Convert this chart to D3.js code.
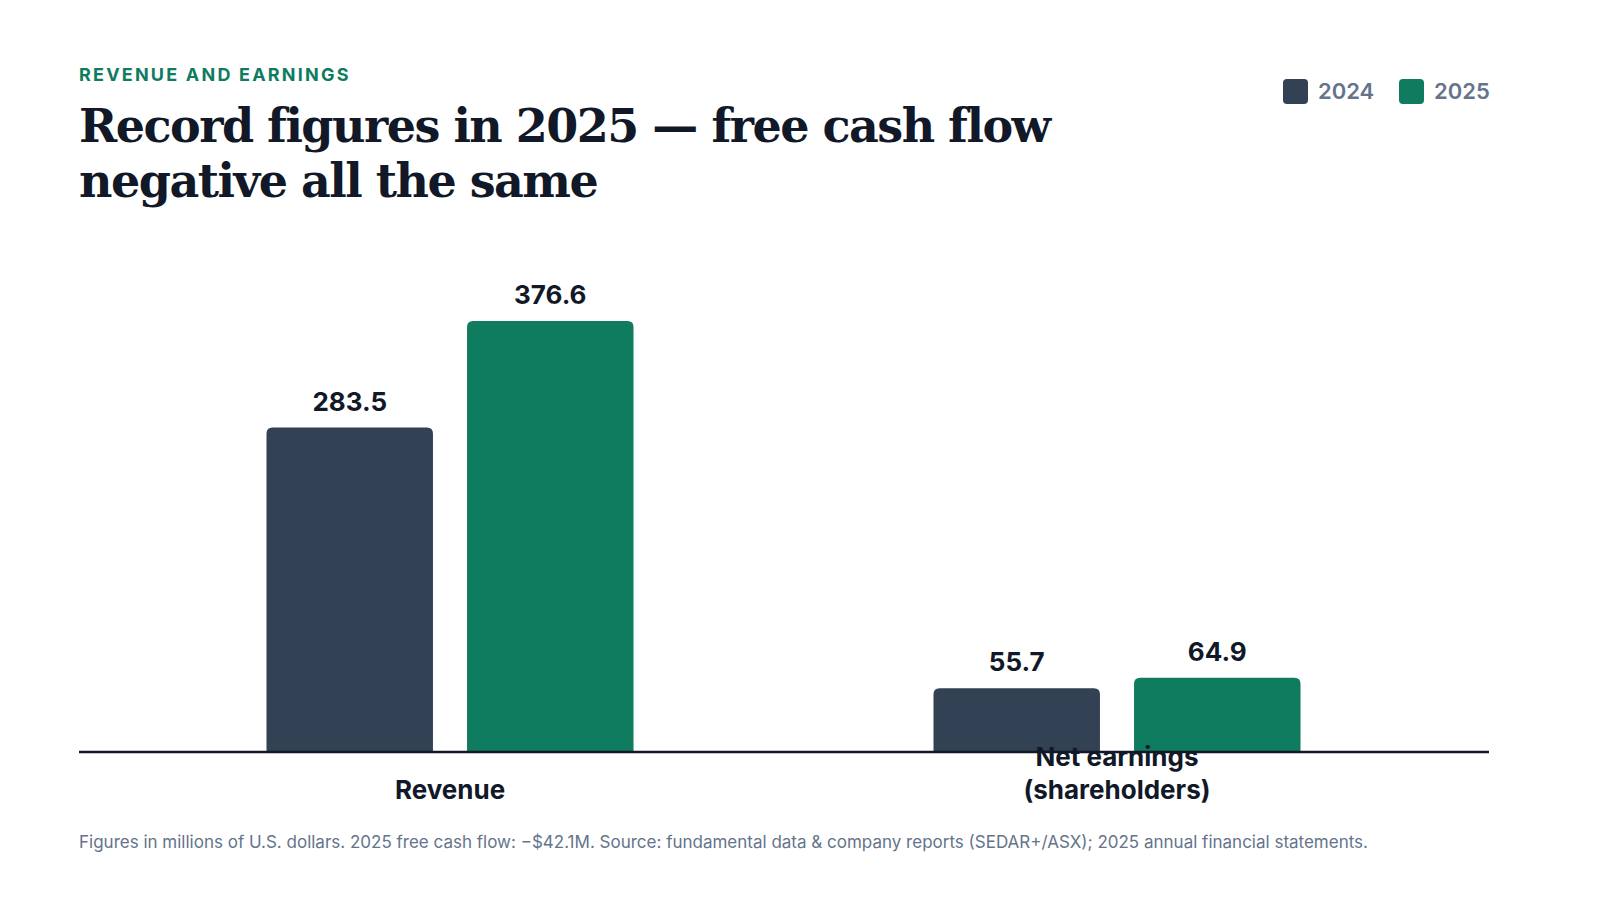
<!DOCTYPE html>
<html>
<head>
<meta charset="utf-8">
<script src="https://cdn.jsdelivr.net/npm/d3@7"></script>
<style>
  body { margin: 0; background: #fff; }
  text { font-family: Inter, "Noto Sans", sans-serif; }
</style>
</head>
<body>
<div id="chart"></div>
<script>
var categories = ["Revenue", "Net earnings\n(shareholders)"],
    years = ["2024", "2025"],
    values2024 = [283.5, 55.7],
    values2025 = [376.6, 64.9],
    colors = { "2024": "#334155", "2025": "#0f7b5f" };

var width = 1600, height = 900,
    baseline = 752;

var svg = d3.select("#chart").append("svg")
    .attr("width", width)
    .attr("height", height);

// header
svg.append("text")
    .attr("x", 79).attr("y", 81)
    .attr("fill", "#0f7b5f")
    .style("font-size", "18px").style("font-weight", 700)
    .style("letter-spacing", "2.2px")
    .text("REVENUE AND EARNINGS");

var title = svg.append("text")
    .attr("x", 79).attr("y", 142)
    .attr("fill", "#111827")
    .style("font-family", "'DejaVu Serif', serif")
    .style("font-size", "46px").style("font-weight", 700)
    .style("letter-spacing", "-1.5px");
title.append("tspan").attr("x", 79).text("Record figures in 2025 — free cash flow");
title.append("tspan").attr("x", 79).attr("dy", 55).text("negative all the same");

// legend
var legend = svg.append("g").selectAll("g")
    .data(years).join("g")
    .attr("transform", function (d, i) { return "translate(" + (1283 + i * 116) + ",79)"; });
legend.append("rect")
    .attr("width", 25).attr("height", 25).attr("rx", 4)
    .attr("fill", function (d) { return colors[d]; });
legend.append("text")
    .attr("x", 35).attr("y", 20)
    .attr("fill", "#64748b")
    .style("font-size", "22px").style("font-weight", 600)
    .text(function (d) { return d; });

// scales
var x0 = d3.scaleBand().domain(categories).range([116.5, 1450.5]);
var x1 = d3.scaleBand().domain(years).range([150, 517]).paddingInner(0.17);
var y = d3.scaleLinear().domain([0, 376.6]).range([baseline, 321]);

var rows = categories.map(function (c, i) {
    return { cat: c, vals: [
        { year: "2024", v: values2024[i] },
        { year: "2025", v: values2025[i] }
    ] };
});

function topRounded(x, yTop, w, h, r) {
    return "M" + x + "," + (yTop + h) +
        "V" + (yTop + r) +
        "Q" + x + "," + yTop + " " + (x + r) + "," + yTop +
        "H" + (x + w - r) +
        "Q" + (x + w) + "," + yTop + " " + (x + w) + "," + (yTop + r) +
        "V" + (yTop + h) + "Z";
}

var groups = svg.append("g").selectAll("g")
    .data(rows).join("g")
    .attr("transform", function (d) { return "translate(" + x0(d.cat) + ",0)"; });

groups.selectAll("path")
    .data(function (d) { return d.vals; }).join("path")
    .attr("fill", function (d) { return colors[d.year]; })
    .attr("d", function (d) {
        return topRounded(x1(d.year), y(d.v), x1.bandwidth(), baseline - y(d.v), 6);
    });

groups.selectAll("text.val")
    .data(function (d) { return d.vals; }).join("text")
    .attr("class", "val")
    .attr("x", function (d) { return x1(d.year) + x1.bandwidth() / 2; })
    .attr("y", function (d) { return y(d.v) - 17; })
    .attr("text-anchor", "middle")
    .attr("fill", "#111827")
    .style("font-size", "26px").style("font-weight", 700)
    .text(function (d) { return d.v.toFixed(1); });

// baseline
svg.append("line")
    .attr("x1", 79).attr("x2", 1489)
    .attr("y1", baseline).attr("y2", baseline)
    .attr("stroke", "#111827").attr("stroke-width", 2.5);

// category labels
svg.append("g").selectAll("text")
    .data(categories).join("text")
    .attr("text-anchor", "middle")
    .attr("fill", "#111827")
    .style("font-size", "26px").style("font-weight", 700)
    .each(function (d) {
        var lines = d.split("\n"),
            cx = x0(d) + x0.bandwidth() / 2,
            t = d3.select(this);
        lines.forEach(function (l, i) {
            t.append("tspan")
                .attr("x", cx)
                .attr("y", 799 - (lines.length - 1 - i) * 33)
                .text(l);
        });
    });

// footnote
svg.append("text")
    .attr("x", 79).attr("y", 848)
    .attr("fill", "#64748b")
    .style("font-size", "17px")
    .text("Figures in millions of U.S. dollars. 2025 free cash flow: \u2212$42.1M. Source: fundamental data & company reports (SEDAR+/ASX); 2025 annual financial statements.");
</script>
</body>
</html>
